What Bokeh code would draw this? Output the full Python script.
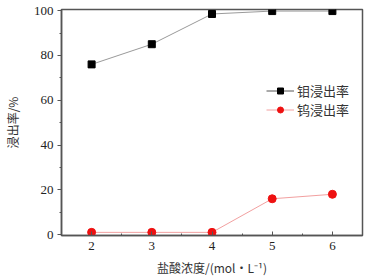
from bokeh.plotting import figure
from bokeh.models import ColumnDataSource, Legend, LegendItem, FixedTicker, Range1d
from bokeh.embed import file_html
from bokeh.resources import INLINE

conc = [2, 3, 4, 5, 6]
mo_rate = [76, 85, 98.5, 99.8, 99.8]
w_rate = [1, 1, 1, 16, 18]
x_ticks = [2, 3, 4, 5, 6]
y_ticks = [0, 20, 40, 60, 80, 100]

mo_name = "钼浸出率"
w_name = "钨浸出率"
x_title = "盐酸浓度/(mol·L⁻¹)"
y_title = "浸出率/%"

MO_LINE = "#9a9a9a"
W_LINE = "#f2a0a0"
W_MARK = "#ee1111"

p = figure(width=370, height=278, output_backend="svg", toolbar_location=None,
           x_range=Range1d(1.5, 6.5), y_range=Range1d(-0.4, 100.5),
           min_border_left=58, min_border_right=8, min_border_top=9, min_border_bottom=43)
p.background_fill_color = "white"
p.border_fill_color = "white"
p.outline_line_color = "#555555"
p.outline_line_width = 1.5
p.grid.visible = False

# legend-only renderers (NaN data, nothing drawn in the plot) with smaller markers
nan = float("nan")
blank = ColumnDataSource(dict(x=[nan], y=[nan]))
lg1 = p.line("x", "y", source=blank, line_color="#555555", line_width=1)
lgs1 = p.scatter("x", "y", source=blank, marker="square", size=6, fill_color="black", line_color="black")
lg2 = p.line("x", "y", source=blank, line_color=W_LINE, line_width=1)
lgs2 = p.scatter("x", "y", source=blank, marker="circle", size=6, fill_color=W_MARK, line_color=W_MARK)

src = ColumnDataSource(dict(x=conc, mo=mo_rate, w=w_rate))
p.line("x", "mo", source=src, line_color=MO_LINE, line_width=1)
p.scatter("x", "mo", source=src, marker="square", size=7, fill_color="black", line_color="black")
p.line("x", "w", source=src, line_color=W_LINE, line_width=1)
p.scatter("x", "w", source=src, marker="circle", size=8, fill_color=W_MARK, line_color=W_MARK)

for ax in (p.xaxis[0], p.yaxis[0]):
    ax.axis_line_color = "#555555"
    ax.axis_line_width = 1.5
    ax.major_tick_line_color = "#555555"
    ax.minor_tick_line_color = "#555555"
    ax.major_label_text_font = "Liberation Serif"
    ax.major_label_text_font_size = "13px"
    ax.major_label_text_color = "#222222"
    ax.axis_label_text_font = "Noto Sans CJK SC"
    ax.axis_label_text_font_size = "12px"
    ax.axis_label_text_font_style = "normal"
    ax.axis_label_text_color = "#333333"

p.xaxis.ticker = FixedTicker(ticks=x_ticks, minor_ticks=[2.5, 3.5, 4.5, 5.5])
p.yaxis.ticker = FixedTicker(ticks=y_ticks, minor_ticks=[10, 30, 50, 70, 90])
p.xaxis.major_tick_in = 4
p.xaxis.major_tick_out = 0
p.xaxis.minor_tick_in = 2
p.xaxis.minor_tick_out = 0
p.yaxis.major_tick_in = 0
p.yaxis.major_tick_out = 4
p.yaxis.minor_tick_in = 0
p.yaxis.minor_tick_out = 2
p.xaxis.major_label_standoff = 6
p.yaxis.major_label_standoff = 4
p.xaxis.axis_label = x_title
p.yaxis.axis_label = y_title
p.xaxis.axis_label_standoff = 6
p.yaxis.axis_label_standoff = 10

legend = Legend(items=[LegendItem(label=mo_name, renderers=[lg1, lgs1]),
                       LegendItem(label=w_name, renderers=[lg2, lgs2])],
                location=(201, 112), border_line_alpha=0, background_fill_alpha=0,
                label_text_font="Noto Sans CJK SC", label_text_font_size="13px",
                label_text_color="#333333", glyph_width=28, glyph_height=15,
                label_height=15, spacing=-2, padding=4, label_standoff=3)
p.add_layout(legend)

open("out.html", "w").write(file_html(p, INLINE))
